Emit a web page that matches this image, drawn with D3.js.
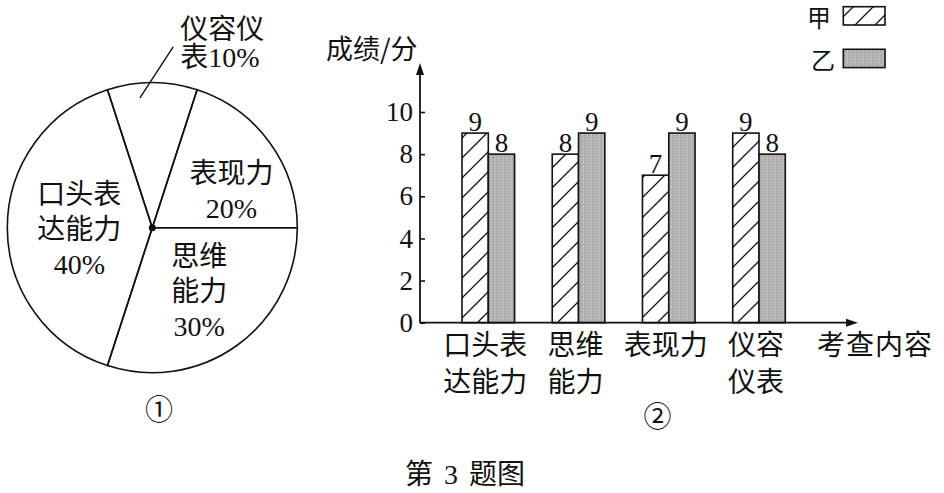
<!DOCTYPE html>
<html>
<head>
<meta charset="utf-8">
<script src="https://cdn.jsdelivr.net/npm/d3@7"></script>
<style>
  html, body { margin: 0; padding: 0; background: #fff; }
  svg { display: block; }
  text { fill: #111; }
</style>
</head>
<body>
<div id="chart"></div>
<script>
// pie: slices in clockwise order starting at 3 o'clock
var pieNames  = ['思维能力', '口头表达能力', '仪容仪表', '表现力'],
    pieValues = [30, 40, 10, 20],
    pieLines  = ['思维\n能力\n', '口头表\n达能力\n', '仪容仪\n表', '表现力\n'];

// bars
var categories = ['口头表达能力', '思维能力', '表现力', '仪容仪表'],
    catLines   = [['口头表', '达能力'], ['思维', '能力'], ['表现力'], ['仪容', '仪表']],
    seriesKeys = ['甲', '乙'],
    jiaScores  = [9, 8, 7, 9],
    yiScores   = [8, 9, 9, 8],
    yTicks     = [0, 2, 4, 6, 8, 10];

var W = 944, H = 493,
    CJK = '"Noto Sans CJK SC", sans-serif',
    MIX = '"Liberation Serif", "Noto Sans CJK SC", serif';

var svg = d3.select('#chart').append('svg')
    .attr('width', W).attr('height', H);

svg.append('rect').attr('width', W).attr('height', H).attr('fill', '#fff');

var defs = svg.append('defs');
defs.append('pattern')
    .attr('id', 'hatch')
    .attr('patternUnits', 'userSpaceOnUse')
    .attr('width', 20).attr('height', 20)
  .append('path')
    .attr('d', 'M-5,5 L5,-5 M0,20 L20,0 M15,25 L25,15')
    .attr('stroke', '#111').attr('stroke-width', 1.3);

// speckled grey
var grain = defs.append('pattern')
    .attr('id', 'grain')
    .attr('patternUnits', 'userSpaceOnUse')
    .attr('width', 4).attr('height', 4);
grain.append('rect').attr('width', 4).attr('height', 4).attr('fill', '#b5b5b5');
grain.append('rect').attr('x', 1).attr('y', 1).attr('width', 1).attr('height', 1).attr('fill', '#939393');
grain.append('rect').attr('x', 3).attr('y', 2).attr('width', 1).attr('height', 1).attr('fill', '#d0d0d0');
grain.append('rect').attr('x', 0).attr('y', 3).attr('width', 1).attr('height', 1).attr('fill', '#9c9c9c');

var fills = { '甲': 'url(#hatch)', '乙': 'url(#grain)' };

// ---------- pie ----------
var cx = 152.3, cy = 227.7, R = 145;
var pieG = svg.append('g').attr('transform', 'translate(' + cx + ',' + cy + ')');

var pieData = pieNames.map(function(n, i) { return { name: n, value: pieValues[i], lines: pieLines[i] }; });
var arcs = d3.pie()
    .value(function(d) { return d.value; })
    .sort(null)
    .startAngle(Math.PI / 2)
    .endAngle(Math.PI / 2 + 2 * Math.PI)(pieData);

var arc = d3.arc().innerRadius(0).outerRadius(R);
pieG.selectAll('path.slice')
    .data(arcs)
    .enter().append('path')
    .attr('class', 'slice')
    .attr('d', arc)
    .attr('fill', 'none')
    .attr('stroke', '#111')
    .attr('stroke-width', 1.6);

pieG.append('circle').attr('r', 3.5).attr('fill', '#111');

// label placement (nudges from the centroid at r=78)
var labelArc = d3.arc().innerRadius(78).outerRadius(78);
var nudge = [[1, 0], [5, 1], [0, 0], [16, 9]];
var lineGap = 35;

arcs.forEach(function(a, i) {
    var parts = (a.data.lines + a.data.value + '%').split('\n');
    if (a.data.value <= 10) {
        // small slice: label outside, with a leader line
        var mid = (a.startAngle + a.endAngle) / 2,
            p0 = [Math.sin(mid - 0.095) * R * 0.9, -Math.cos(mid - 0.095) * R * 0.9],
            p1 = [Math.sin(mid + 0.115) * R * 1.255, -Math.cos(mid + 0.115) * R * 1.255];
        pieG.append('line')
            .attr('x1', p0[0]).attr('y1', p0[1])
            .attr('x2', p1[0]).attr('y2', p1[1])
            .attr('stroke', '#111').attr('stroke-width', 1.4);
        var t = pieG.append('text')
            .style('font-family', MIX).style('font-size', '28px');
        parts.forEach(function(s, j) {
            t.append('tspan').attr('x', p1[0] + 7)
                .attr('y', p1[1] - 7.5 + j * 28)
                .text(s);
        });
        return;
    }
    var c = labelArc.centroid(a),
        x = c[0] + nudge[i][0],
        y0 = c[1] + nudge[i][1] - (parts.length - 1) * lineGap / 2;
    var t2 = pieG.append('text')
        .attr('text-anchor', 'middle')
        .style('font-family', MIX).style('font-size', '28px');
    parts.forEach(function(s, j) {
        t2.append('tspan').attr('x', x)
            .attr('y', y0 + j * lineGap + 10)
            .text(s);
    });
});

svg.append('text')
    .attr('x', 159).attr('y', 420)
    .attr('text-anchor', 'middle')
    .style('font-family', CJK).style('font-size', '28px')
    .text('①');

// ---------- bars ----------
var y = d3.scaleLinear().domain([0, 10]).range([322.7, 112]);
var x = d3.scalePoint().domain(categories).range([488.3, 759]);
var xs = d3.scaleBand().domain(seriesKeys).range([-26.3, 26.3]);

var barData = [];
categories.forEach(function(c, i) {
    barData.push({ cat: c, key: '甲', v: jiaScores[i] });
    barData.push({ cat: c, key: '乙', v: yiScores[i] });
});

var bars = svg.append('g');
bars.selectAll('rect')
    .data(barData)
    .enter().append('rect')
    .attr('x', function(d) { return x(d.cat) + xs(d.key); })
    .attr('y', function(d) { return y(d.v); })
    .attr('width', xs.bandwidth())
    .attr('height', function(d) { return y(0) - y(d.v); })
    .attr('fill', function(d) { return fills[d.key]; })
    .attr('stroke', '#111')
    .attr('stroke-width', 1.6);

bars.selectAll('text')
    .data(barData)
    .enter().append('text')
    .attr('x', function(d) { return x(d.cat) + xs(d.key) + xs.bandwidth() / 2; })
    .attr('y', function(d) { return y(d.v) - 2.5; })
    .attr('text-anchor', 'middle')
    .style('font-family', MIX).style('font-size', '27px')
    .text(function(d) { return d.v; });

// y axis, ticks pointing inward
var yAxis = svg.append('g')
    .attr('transform', 'translate(420,0)')
    .call(d3.axisLeft(y).tickValues(yTicks).tickSize(-5).tickPadding(7));
yAxis.select('.domain').remove();
yAxis.selectAll('line').attr('stroke', '#111').attr('stroke-width', 1.6);
yAxis.selectAll('text')
    .style('font-family', MIX).style('font-size', '27px').attr('fill', '#111');

// axis lines with arrows
svg.append('line')
    .attr('x1', 420).attr('y1', y(0)).attr('x2', 420).attr('y2', 70)
    .attr('stroke', '#111').attr('stroke-width', 1.8);
svg.append('path')
    .attr('d', 'M420,63 L416,75 L424,75 Z').attr('fill', '#111');
svg.append('line')
    .attr('x1', 420).attr('y1', y(0)).attr('x2', 850).attr('y2', y(0))
    .attr('stroke', '#111').attr('stroke-width', 1.8);
svg.append('path')
    .attr('d', 'M858,' + y(0) + ' L846,' + (y(0) - 4) + ' L846,' + (y(0) + 4) + ' Z')
    .attr('fill', '#111');

// category labels
var xl = svg.append('g');
categories.forEach(function(c, i) {
    var t = xl.append('text')
        .attr('text-anchor', 'middle')
        .style('font-family', CJK).style('font-size', '28px');
    catLines[i].forEach(function(s, j) {
        t.append('tspan').attr('x', x(c) - 3).attr('y', 355 + j * 36.5).text(s);
    });
});

svg.append('text')
    .attr('x', 875).attr('y', 355)
    .attr('text-anchor', 'middle')
    .style('font-family', CJK).style('font-size', '28px')
    .style('letter-spacing', '1px')
    .text('考查内容');

svg.append('text')
    .attr('x', 326).attr('y', 58.5)
    .style('font-family', CJK).style('font-size', '27px')
    .text('成绩/分');

// legend
var legend = svg.append('g');
seriesKeys.forEach(function(k, i) {
    legend.append('text')
        .attr('x', 819 + i * 4).attr('y', 27 + i * 42)
        .attr('text-anchor', 'middle')
        .style('font-family', CJK).style('font-size', '24px')
        .text(k);
    legend.append('rect')
        .attr('x', 843.3).attr('y', 6.7 + i * 42.6)
        .attr('width', 41.7).attr('height', 18.3)
        .attr('fill', fills[k])
        .attr('stroke', '#111').attr('stroke-width', 1.6);
});

svg.append('text')
    .attr('x', 657.5).attr('y', 427)
    .attr('text-anchor', 'middle')
    .style('font-family', CJK).style('font-size', '28px')
    .text('②');

svg.append('text')
    .attr('x', 465).attr('y', 484)
    .attr('text-anchor', 'middle')
    .style('font-family', MIX).style('font-size', '28px')
    .style('word-spacing', '4px')
    .text('第 3 题图');
</script>
</body>
</html>
